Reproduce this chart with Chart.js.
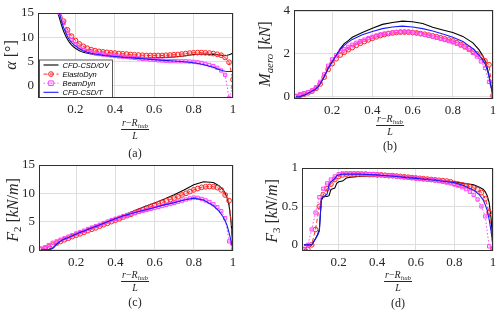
<!DOCTYPE html>
<html><head><meta charset="utf-8">
<script src="https://cdn.jsdelivr.net/npm/chart.js@4.4.0/dist/chart.umd.min.js"></script>
<style>
html,body{margin:0;padding:0;background:#fff;}
#wrap{position:relative;width:500px;height:315px;overflow:hidden;background:#fff;}
canvas{position:absolute;}
.lbl{position:absolute;font-family:"Liberation Serif",serif;color:#262626;white-space:nowrap;line-height:1;}
.lbl sub{font-size:0.68em;vertical-align:-0.3em;line-height:0;}
.ytitle{transform:translate(-50%,-50%) rotate(-90deg);font-size:16px;}
.frac{transform:translateX(-50%);text-align:center;font-size:10px;}
.frac .num{border-bottom:0.8px solid #262626;padding:0 1px 1px 1px;}
.frac .den{padding-top:1px;}
.cap{transform:translate(-50%,-50%);font-size:12px;}
</style></head>
<body>
<div id="wrap">
<canvas id="cA"></canvas>
<canvas id="cB"></canvas>
<canvas id="cC"></canvas>
<canvas id="cD"></canvas>

<div class="lbl ytitle" style="left:11px;top:55px"><i>α</i> [°]</div>
<div class="lbl ytitle" style="left:265px;top:54px"><i>M</i><sub><i>aero</i></sub> [<i>kN</i>]</div>
<div class="lbl ytitle" style="left:13px;top:210px"><i>F</i><sub>2</sub> [<i>kN</i>/<i>m</i>]</div>
<div class="lbl ytitle" style="left:272px;top:211px"><i>F</i><sub>3</sub> [<i>kN</i>/<i>m</i>]</div>

<div class="lbl frac" style="left:135px;top:118px"><div class="num"><i>r</i>−<i>R</i><sub><i>hub</i></sub></div><div class="den"><i>L</i></div></div>
<div class="lbl frac" style="left:390px;top:114px"><div class="num"><i>r</i>−<i>R</i><sub><i>hub</i></sub></div><div class="den"><i>L</i></div></div>
<div class="lbl frac" style="left:135px;top:270px"><div class="num"><i>r</i>−<i>R</i><sub><i>hub</i></sub></div><div class="den"><i>L</i></div></div>
<div class="lbl frac" style="left:398px;top:270px"><div class="num"><i>r</i>−<i>R</i><sub><i>hub</i></sub></div><div class="den"><i>L</i></div></div>

<div class="lbl cap" style="left:135px;top:153px">(a)</div>
<div class="lbl cap" style="left:390px;top:146px">(b)</div>
<div class="lbl cap" style="left:135px;top:302px">(c)</div>
<div class="lbl cap" style="left:398px;top:303px">(d)</div>
</div>
<script>
// ---------------- data ----------------
const seriesNames = ['CFD-CSD/OV','ElastoDyn','BeamDyn','CFD-CSD/T'];
const xTicks = [0.2,0.4,0.6,0.8,1];
const xTickLabels = ['0.2','0.4','0.6','0.8','1'];

const xNodes = [0.02,0.04,0.06,0.08,0.10,0.12,0.14,0.16,0.18,0.20,0.22,0.24,0.26,0.28,0.30,0.32,0.34,0.36,0.38,0.40,0.42,0.44,0.46,0.48,0.50,0.52,0.54,0.56,0.58,0.60,0.62,0.64,0.66,0.68,0.70,0.72,0.74,0.76,0.78,0.80,0.82,0.84,0.86,0.88,0.90,0.92,0.94,0.96,0.98,1.00];
const xCfd = [0.02,0.04,0.06,0.08,0.09,0.10,0.11,0.12,0.13,0.14,0.15,0.16,0.17,0.18,0.19,0.20,0.22,0.24,0.26,0.28,0.30,0.35,0.40,0.45,0.50,0.55,0.60,0.65,0.70,0.75,0.80,0.85,0.90,0.93,0.95,0.96,0.97,0.98,0.99,1.00];

// (a) angle of attack [deg]
const alphaOV = [null,null,null,null,null,17.5,15.2,13.8,12.4,11.2,10.3,9.5,8.9,8.4,8.0,7.7,7.2,6.9,6.65,6.5,6.35,6.15,6.0,5.9,5.8,5.75,5.75,5.8,5.9,6.1,6.4,6.5,6.4,6.3,6.2,6.2,6.25,6.35,6.5,6.8];
const alphaED = [null,null,null,null,18.5,15.6,13.3,11.5,10.2,9.3,8.6,8.1,7.7,7.4,7.2,7.05,6.95,6.85,6.75,6.7,6.6,6.55,6.5,6.4,6.35,6.3,6.25,6.2,6.2,6.2,6.2,6.2,6.25,6.3,6.35,6.4,6.5,6.6,6.7,6.75,6.8,6.8,6.75,6.7,6.6,6.45,6.25,5.8,4.8,1.2];
const alphaBD = [null,null,null,null,17.5,15.0,13.0,10.9,9.4,8.5,7.9,7.4,7.1,6.85,6.65,6.5,6.4,6.3,6.2,6.1,6.0,5.95,5.9,5.8,5.7,5.6,5.5,5.45,5.35,5.3,5.2,5.15,5.1,5.05,5.05,5.0,5.0,5.0,4.95,4.9,4.8,4.65,4.45,4.25,4.0,3.65,3.1,2.2,-2.6,-0.3];
const alphaT = [null,null,null,null,null,18.0,16.0,14.8,13.2,12.0,11.0,10.1,9.4,8.9,8.5,8.2,7.6,7.2,6.9,6.65,6.5,6.2,6.0,5.8,5.65,5.5,5.35,5.2,5.05,4.9,4.7,4.35,3.75,3.3,3.05,2.95,2.9,2.9,2.9,2.9];

// (b) M_aero [kN]
const maeroOV = [0,0.02,0.08,0.18,0.22,0.28,0.33,0.4,0.5,0.62,0.78,0.95,1.15,1.35,1.5,1.65,1.95,2.25,2.48,2.62,2.78,3.0,3.2,3.38,3.47,3.53,3.5,3.42,3.25,3.12,3.0,2.82,2.52,2.2,1.9,1.7,1.42,1.0,0.5,0.03];
const maeroED = [0.0,0.07,0.13,0.19,0.27,0.4,0.6,0.92,1.28,1.55,1.78,1.95,2.08,2.2,2.3,2.4,2.5,2.58,2.66,2.73,2.8,2.86,2.91,2.95,2.98,3.0,3.02,3.02,3.02,3.0,2.98,2.95,2.92,2.88,2.84,2.8,2.75,2.7,2.65,2.6,2.52,2.44,2.35,2.25,2.13,2.0,1.85,1.68,1.5,0.05];
const maeroBD = [0.05,0.12,0.17,0.22,0.3,0.45,0.7,1.05,1.45,1.75,1.95,2.1,2.22,2.33,2.43,2.52,2.6,2.67,2.74,2.8,2.86,2.91,2.95,2.98,3.0,3.02,3.03,3.03,3.02,3.0,2.97,2.93,2.89,2.85,2.8,2.75,2.7,2.65,2.6,2.54,2.47,2.39,2.3,2.19,2.05,1.88,1.65,1.35,0.7,0.0];
const maeroT = [0,0.02,0.08,0.17,0.21,0.27,0.32,0.38,0.48,0.6,0.76,0.93,1.12,1.32,1.48,1.63,1.93,2.2,2.4,2.55,2.68,2.9,3.05,3.18,3.26,3.3,3.26,3.18,3.07,2.93,2.78,2.58,2.25,1.95,1.7,1.55,1.3,0.95,0.5,0.02];

// (c) F2 [kN/m]
const f2OV = [0,0,0.05,0.3,0.6,1.0,1.3,1.55,1.75,1.9,2.0,2.15,2.3,2.45,2.6,2.75,3.05,3.3,3.6,3.85,4.15,4.85,5.55,6.25,6.95,7.65,8.3,9.0,9.75,10.6,11.5,12.05,11.9,11.3,10.6,10.0,9.2,7.8,5.0,0.1];
const f2ED = [0.1,0.25,0.5,0.85,1.2,1.5,1.8,2.05,2.35,2.6,2.85,3.1,3.4,3.65,3.9,4.2,4.45,4.7,5.0,5.25,5.5,5.8,6.05,6.3,6.6,6.85,7.1,7.4,7.65,7.9,8.15,8.4,8.65,8.9,9.15,9.4,9.7,10.0,10.3,10.6,10.85,11.05,11.15,11.2,11.15,11.0,10.6,9.7,8.7,1.2];
const f2BD = [0.2,0.45,0.85,1.25,1.5,1.8,2.05,2.35,2.6,2.9,3.15,3.4,3.7,3.95,4.2,4.45,4.75,5.0,5.25,5.5,5.7,5.95,6.15,6.35,6.55,6.7,6.9,7.05,7.25,7.4,7.6,7.75,7.95,8.1,8.3,8.5,8.7,8.9,9.1,9.25,9.2,9.0,8.75,8.45,8.05,7.55,6.85,5.6,1.5,0.0];
const f2T = [0,0,0.05,0.3,0.6,1.0,1.3,1.55,1.75,1.9,2.05,2.2,2.35,2.5,2.65,2.8,3.1,3.35,3.65,3.9,4.15,4.85,5.5,6.1,6.6,7.05,7.5,7.95,8.35,8.8,9.15,8.8,7.8,6.8,5.8,5.1,4.3,3.0,1.6,0.0];

// (d) F3 [kN/m]
const f3OV = [0,0,0,0.08,0.13,0.2,0.58,0.62,0.63,0.63,0.64,0.72,0.73,0.74,0.8,0.82,0.83,0.87,0.88,0.885,0.89,0.895,0.9,0.9,0.895,0.885,0.875,0.865,0.85,0.835,0.82,0.8,0.78,0.75,0.72,0.69,0.64,0.55,0.35,-0.02];
const f3ED = [-0.06,-0.06,0.0,0.2,0.5,0.65,0.73,0.79,0.85,0.89,0.91,0.92,0.92,0.92,0.92,0.92,0.92,0.915,0.915,0.91,0.91,0.905,0.9,0.9,0.895,0.89,0.885,0.88,0.875,0.87,0.865,0.86,0.855,0.85,0.845,0.84,0.835,0.83,0.82,0.8,0.79,0.78,0.77,0.755,0.74,0.72,0.68,0.6,0.42,-0.05];
const f3BD = [-0.06,0.0,0.2,0.42,0.62,0.73,0.8,0.85,0.89,0.92,0.93,0.93,0.93,0.93,0.93,0.925,0.925,0.92,0.92,0.915,0.91,0.905,0.9,0.895,0.89,0.885,0.88,0.875,0.87,0.865,0.86,0.855,0.85,0.845,0.84,0.83,0.82,0.81,0.8,0.785,0.77,0.75,0.725,0.69,0.65,0.59,0.5,0.37,-0.02,-0.05];
const f3T = [0,0,0,0.08,0.12,0.18,0.6,0.63,0.64,0.66,0.78,0.82,0.84,0.86,0.9,0.91,0.92,0.92,0.92,0.92,0.92,0.915,0.91,0.9,0.89,0.875,0.865,0.85,0.84,0.825,0.81,0.77,0.71,0.65,0.58,0.52,0.45,0.33,0.18,0.0];

const yTicksA = [0,5,10,15],  yLabelsA = ['0','5','10','15'];
const yTicksB = [0,2,4],      yLabelsB = ['0','2','4'];
const yTicksC = [0,5,10,15],  yLabelsC = ['0','5','10','15'];
const yTicksD = [0,0.5,1],    yLabelsD = ['0','0.5','1'];

// ---------------- drawing ----------------
const AXW = 38, PADT = 12, PADR = 10, AXH = 22;
const TICKFONT = {family:'"Liberation Serif", serif', size:13};
const TXT = '#262626', GRID = '#dedede';

function pts(xs, ys){ return xs.map((x,i)=>({x:x, y:ys[i]})); }

function makeDatasets(ov, ed, bd, t){
  return [
    {label:seriesNames[0], data:pts(xCfd, ov), borderColor:'#000000', borderWidth:1.1, pointRadius:0, order:4},
    {label:seriesNames[1], data:pts(xNodes, ed), borderColor:'#ff2a2a', borderWidth:1, borderDash:[4,2.5],
     pointStyle:'circle', pointRadius:2.4, pointBorderWidth:1, pointBorderColor:'#ff2a2a', pointBackgroundColor:'rgba(255,0,0,0.12)', order:3},
    {label:seriesNames[2], data:pts(xNodes, bd), borderColor:'#ff44ff', borderWidth:1, borderDash:[1.5,2],
     pointStyle:'rect', pointRadius:2.3, pointBorderWidth:1, pointBorderColor:'#ff44ff', pointBackgroundColor:'rgba(255,0,255,0.08)', order:2},
    {label:seriesNames[3], data:pts(xCfd, t), borderColor:'#1a1aff', borderWidth:1.1, pointRadius:0, order:1}
  ];
}

const framePlugin = {
  id:'frame',
  afterDraw(chart){
    const ctx = chart.ctx, a = chart.chartArea;
    ctx.save();
    ctx.strokeStyle = '#303030'; ctx.lineWidth = 1;
    ctx.strokeRect(a.left+0.5, a.top+0.5, a.right-a.left-1, a.bottom-a.top-1);
    ctx.restore();
  }
};

const legendPlugin = {
  id:'boxLegend',
  afterDatasetsDraw(chart){
    const ctx = chart.ctx, a = chart.chartArea;
    const bx = a.left+1.5, by = a.bottom-38, bw = 73, bh = 37.5;
    ctx.save();
    ctx.fillStyle = '#ffffff'; ctx.fillRect(bx, by, bw, bh);
    ctx.strokeStyle = '#303030'; ctx.lineWidth = 0.8; ctx.strokeRect(bx, by, bw, bh);
    chart.data.datasets.forEach((ds, i) => {
      const yy = by + 5 + i*9.1;
      ctx.strokeStyle = ds.borderColor; ctx.lineWidth = ds.borderWidth;
      ctx.setLineDash(ds.borderDash || []);
      ctx.beginPath(); ctx.moveTo(bx+4, yy); ctx.lineTo(bx+19, yy); ctx.stroke();
      ctx.setLineDash([]);
      if (ds.pointRadius > 0) {
        const cx = bx+11.5, r = ds.pointRadius;
        ctx.fillStyle = ds.pointBackgroundColor; ctx.strokeStyle = ds.pointBorderColor; ctx.lineWidth = ds.pointBorderWidth;
        ctx.beginPath();
        if (ds.pointStyle === 'rect') ctx.rect(cx-r, yy-r, 2*r, 2*r); else ctx.arc(cx, yy, r, 0, Math.PI*2);
        ctx.fill(); ctx.stroke();
      }
      ctx.fillStyle = '#000'; ctx.font = 'italic 7.5px "Liberation Sans", Arial, sans-serif';
      ctx.textBaseline = 'middle'; ctx.textAlign = 'left';
      ctx.fillText(ds.label, bx+23, yy+0.5);
    });
    ctx.restore();
  }
};

function makeChart(id, rect, sets, yMin, yMax, yTicks, yLabels, withLegend){
  const cv = document.getElementById(id);
  const w = rect.R - rect.L + AXW + PADR, h = rect.B - rect.T + PADT + AXH;
  cv.width = w; cv.height = h;
  cv.style.left = (rect.L - AXW) + 'px'; cv.style.top = (rect.T - PADT) + 'px';
  cv.style.width = w + 'px'; cv.style.height = h + 'px';
  return new Chart(cv, {
    type:'line',
    data:{datasets:sets},
    options:{
      responsive:false, animation:false, devicePixelRatio:1,
      layout:{padding:{left:0, top:PADT, right:PADR, bottom:0}},
      plugins:{legend:{display:false}, tooltip:{enabled:false}},
      elements:{line:{tension:0}},
      scales:{
        x:{type:'linear', min:0.01, max:1,
           afterBuildTicks:s=>{ s.ticks = xTicks.map(v=>({value:v})); },
           afterFit:s=>{ s.height = AXH; },
           ticks:{callback:(v,i)=>xTickLabels[i], font:TICKFONT, color:TXT, padding:4, maxRotation:0, autoSkip:false},
           grid:{color:GRID, lineWidth:1, drawTicks:false}, border:{display:false}},
        y:{type:'linear', min:yMin, max:yMax,
           afterBuildTicks:s=>{ s.ticks = yTicks.map(v=>({value:v})); },
           afterFit:s=>{ s.width = AXW; },
           ticks:{callback:(v,i)=>yLabels[i], font:TICKFONT, color:TXT, padding:4, autoSkip:false},
           grid:{color:GRID, lineWidth:1, drawTicks:false}, border:{display:false}}
      }
    },
    plugins: withLegend ? [legendPlugin, framePlugin] : [framePlugin]
  });
}

makeChart('cA', {L:38, T:13, R:233, B:98}, makeDatasets(alphaOV, alphaED, alphaBD, alphaT), -2.6, 15, yTicksA, yLabelsA, true);
makeChart('cB', {L:294, T:10, R:493, B:99}, makeDatasets(maeroOV, maeroED, maeroBD, maeroT), -0.1, 4.05, yTicksB, yLabelsB, false);
makeChart('cC', {L:39, T:165, R:233, B:251}, makeDatasets(f2OV, f2ED, f2BD, f2T), -0.2, 15, yTicksC, yLabelsC, false);
makeChart('cD', {L:302, T:168, R:493, B:251}, makeDatasets(f3OV, f3ED, f3BD, f3T), -0.08, 1, yTicksD, yLabelsD, false);
</script>
</body></html>
